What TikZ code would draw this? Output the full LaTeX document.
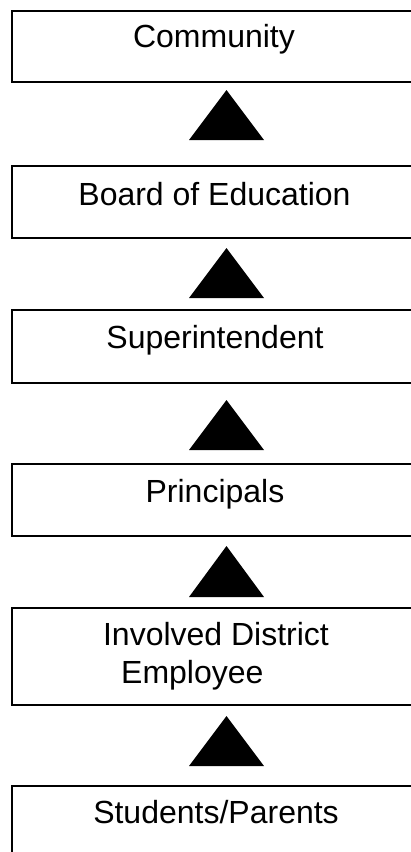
\documentclass[tikz,border=0pt]{standalone}
\usepackage{fontspec}
\setmainfont{Liberation Sans}
\begin{document}
\begin{tikzpicture}[x=1pt,y=-1pt,
  box/.style={draw=black,line width=1.5pt,fill=white,anchor=north west,inner sep=0pt,minimum width=409pt},
  lbl/.style={anchor=base,inner sep=0pt,font=\fontsize{32}{38}\selectfont},
  uptri/.style={fill=black}]
\useasboundingbox (0,0) rectangle (411,852);
\clip (0,0) rectangle (411,852);
\node[box,minimum height=71pt] (community) at (11,10) {};
\node[box,minimum height=72pt] (board) at (11,165) {};
\node[box,minimum height=73pt] (super) at (11,309) {};
\node[box,minimum height=72pt] (principals) at (11,463) {};
\node[box,minimum height=97pt] (employee) at (11,607) {};
\node[box,minimum height=120pt] (students) at (11,785) {};
\node[lbl] (communityT) at (214,47) {Community};
\node[lbl] (boardT) at (214.5,205) {Board of Education};
\node[lbl] (superT) at (215,348) {Superintendent};
\node[lbl] (principalsT) at (215,502) {Principals};
\node[lbl] (employeeT1) at (216,645) {Involved District};
\node[lbl,anchor=base west] (employeeT2) at (121,683) {Employee};
\node[lbl] (studentsT) at (216,823) {Students/Parents};
\fill[uptri] (189,140) -- (226.5,90) -- (264,140) -- cycle;
\fill[uptri] (189,298) -- (226.5,248) -- (264,298) -- cycle;
\fill[uptri] (189,450) -- (226.5,400) -- (264,450) -- cycle;
\fill[uptri] (189,597) -- (226.5,546) -- (264,597) -- cycle;
\fill[uptri] (189,766) -- (226.5,716) -- (264,766) -- cycle;
\end{tikzpicture}
\end{document}
